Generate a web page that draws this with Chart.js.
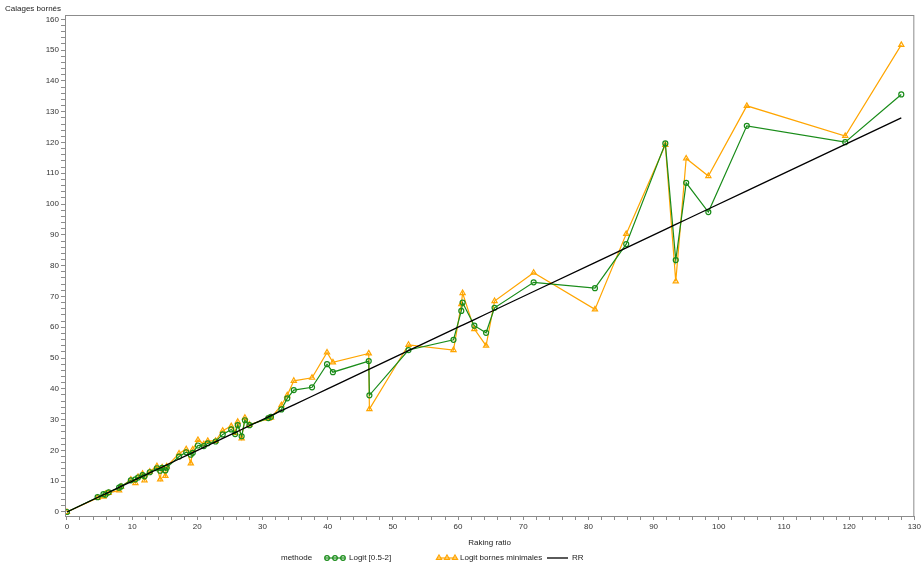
<!DOCTYPE html>
<html>
<head>
<meta charset="utf-8">
<script src="https://cdn.jsdelivr.net/npm/chart.js@4/dist/chart.umd.min.js"></script>
<style>
  html, body { margin:0; padding:0; background:#fff; }
  #cadre { position:relative; width:923px; height:563px; }
</style>
</head>
<body>
<div id="cadre"><canvas id="grafCalage" width="923" height="563"></canvas></div>
<script>
// valeurs (abscisse = raking ratio)
const ratio  = [0, 4.7, 5.6, 5.9, 6.4, 8.0, 8.3, 9.8, 10.5, 10.9, 11.6, 11.9, 12.7, 13.8, 14.3, 14.6, 15.1, 15.3, 17.2, 18.3, 19.0, 19.3, 20.1, 21.0, 21.6, 22.8, 23.9, 25.2, 25.8, 26.2, 26.8, 27.3, 28.0, 30.9, 31.3, 32.9, 33.8, 34.8, 37.6, 39.9, 40.8, 46.3, 46.4, 52.4, 59.3, 60.5, 60.7, 62.5, 64.3, 65.6, 71.6, 81.0, 85.8, 91.8, 93.4, 95.0, 98.4, 104.3, 119.4, 128.0];
const logit  = [0, 4.8, 5.8, 5.6, 6.4, 7.9, 8.3, 10.3, 10.6, 11.2, 12.0, 11.6, 12.9, 14.2, 13.4, 14.3, 13.5, 14.4, 18.0, 19.4, 18.6, 19.2, 21.6, 21.4, 22.3, 22.9, 25.2, 26.8, 25.3, 28.2, 24.6, 29.8, 28.2, 30.5, 30.9, 33.3, 36.9, 39.6, 40.5, 48.0, 45.4, 49.0, 37.9, 52.6, 55.9, 65.3, 68.0, 60.5, 58.2, 66.3, 74.6, 72.7, 87.0, 119.7, 81.8, 106.9, 97.4, 125.4, 120.1, 135.6];
const bornes = [0, 4.6, 5.0, 5.9, 6.2, 7.0, 8.2, 10.5, 9.4, 11.4, 12.4, 10.3, 13.1, 14.9, 10.6, 14.5, 11.7, 14.8, 19.0, 20.4, 15.8, 20.3, 23.4, 22.0, 23.1, 23.1, 26.4, 27.9, 25.7, 29.3, 23.9, 30.6, 28.4, 30.3, 30.6, 34.7, 37.9, 42.6, 43.6, 51.8, 48.6, 51.5, 33.4, 54.3, 52.6, 67.5, 71.1, 59.4, 54.0, 68.5, 77.7, 65.8, 90.3, 119.2, 74.9, 114.8, 109.1, 131.9, 122.1, 151.7];
const rr     = [0, 4.7, 5.6, 5.9, 6.4, 8.0, 8.3, 9.8, 10.5, 10.9, 11.6, 11.9, 12.7, 13.8, 14.3, 14.6, 15.1, 15.3, 17.2, 18.3, 19.0, 19.3, 20.1, 21.0, 21.6, 22.8, 23.9, 25.2, 25.8, 26.2, 26.8, 27.3, 28.0, 30.9, 31.3, 32.9, 33.8, 34.8, 37.6, 39.9, 40.8, 46.3, 46.4, 52.4, 59.3, 60.5, 60.7, 62.5, 64.3, 65.6, 71.6, 81.0, 85.8, 91.8, 93.4, 95.0, 98.4, 104.3, 119.4, 128.0];

const ticksX = [0, 10, 20, 30, 40, 50, 60, 70, 80, 90, 100, 110, 120, 130];
const ticksY = [0, 10, 20, 30, 40, 50, 60, 70, 80, 90, 100, 110, 120, 130, 140, 150, 160];

const police = '"Liberation Sans", Arial, sans-serif';
const vert = '#198c19';
const orange = '#ffa500';

function points(ys){
  return ratio.map((x, i) => ({x: x, y: ys[i]}));
}

// graduations majeures + mineures (tous les 2)
function graduer(majeures){
  return function(scale){
    let t = [];
    for(let v = majeures[0]; v <= majeures[majeures.length-1]; v += 2){ t.push({value: v}); }
    scale.ticks = t;
  }
}

const axeGris = '#8c8c8c';

// cadre + textes (titres et legende)
const habillage = {
  id: 'habillage',
  afterDraw(chart){
    const c = chart.ctx;
    const a = chart.chartArea;
    c.save();
    c.strokeStyle = axeGris;
    c.lineWidth = 1;
    c.strokeRect(a.left + 0.5, a.top + 0.5, a.right - a.left - 1, a.bottom - a.top);

    c.fillStyle = '#222';
    c.font = '8px ' + police;
    c.textBaseline = 'middle';
    c.textAlign = 'left';
    c.fillText('Calages bornés', 5, 9);
    c.textAlign = 'center';
    c.fillText('Raking ratio', (a.left + a.right) / 2, 543);

    // legende
    const yl = 558;
    c.textAlign = 'left';
    c.fillText('methode', 281, yl);
    c.fillText('Logit [0.5-2]', 349, yl);
    c.fillText('Logit bornes minimales', 460, yl);
    c.fillText('RR', 572, yl);

    c.lineWidth = 1.2;
    c.strokeStyle = vert;
    c.beginPath(); c.moveTo(325, yl); c.lineTo(345, yl); c.stroke();
    [327, 335, 343].forEach(x => { c.beginPath(); c.arc(x, yl, 2.3, 0, Math.PI*2); c.stroke(); });

    c.strokeStyle = orange;
    c.beginPath(); c.moveTo(437, yl); c.lineTo(457, yl); c.stroke();
    [439, 447, 455].forEach(x => {
      c.beginPath(); c.moveTo(x, yl-3); c.lineTo(x+2.6, yl+1.5); c.lineTo(x-2.6, yl+1.5); c.closePath(); c.stroke();
    });

    c.strokeStyle = '#000';
    c.lineWidth = 1.3;
    c.beginPath(); c.moveTo(547, yl); c.lineTo(568, yl); c.stroke();
    c.restore();
  }
};

const grafCanvas = document.getElementById('grafCalage').getContext('2d');
new Chart(grafCanvas, {
  type: 'line',
  data: {
    datasets: [
      {
        label: 'RR',
        data: points(rr),
        borderColor: '#000',
        borderWidth: 1.3,
        pointRadius: 0,
        order: 0
      },
      {
        label: 'Logit [0.5-2]',
        data: points(logit),
        borderColor: vert,
        backgroundColor: 'rgba(0,0,0,0)',
        borderWidth: 1.2,
        pointStyle: 'circle',
        pointRadius: 2.5,
        pointBorderWidth: 1.2,
        order: 1
      },
      {
        label: 'Logit bornes minimales',
        data: points(bornes),
        borderColor: orange,
        backgroundColor: 'rgba(0,0,0,0)',
        borderWidth: 1.2,
        pointStyle: 'triangle',
        pointRadius: 3,
        pointBorderWidth: 1.2,
        order: 2
      }
    ]
  },
  options: {
    responsive: false,
    animation: false,
    devicePixelRatio: 1,
    layout: { padding: { top: 15, right: 7, left: 0, bottom: 0 } },
    elements: { line: { tension: 0 } },
    plugins: { legend: { display: false }, tooltip: { enabled: false } },
    scales: {
      x: {
        type: 'linear',
        min: -0.3,
        max: 130,
        afterBuildTicks: graduer(ticksX),
        afterFit: function(s){ s.height = 47; },
        grid: { drawOnChartArea: false, drawTicks: true, tickLength: 4, color: axeGris },
        border: { display: true, color: axeGris },
        ticks: {
          autoSkip: false, maxRotation: 0, padding: 2, color: '#333',
          font: { family: police, size: 8 },
          callback: v => (ticksX.includes(v) ? v : '')
        }
      },
      y: {
        type: 'linear',
        min: -1.3,
        max: 161.4,
        afterBuildTicks: graduer(ticksY),
        afterFit: function(s){ s.width = 65; },
        grid: { drawOnChartArea: false, drawTicks: true, tickLength: 4, color: axeGris },
        border: { display: true, color: axeGris },
        ticks: {
          autoSkip: false, padding: 2, color: '#333',
          font: { family: police, size: 8 },
          callback: v => (ticksY.includes(v) ? v : '')
        }
      }
    }
  },
  plugins: [habillage]
});
</script>
</body>
</html>
